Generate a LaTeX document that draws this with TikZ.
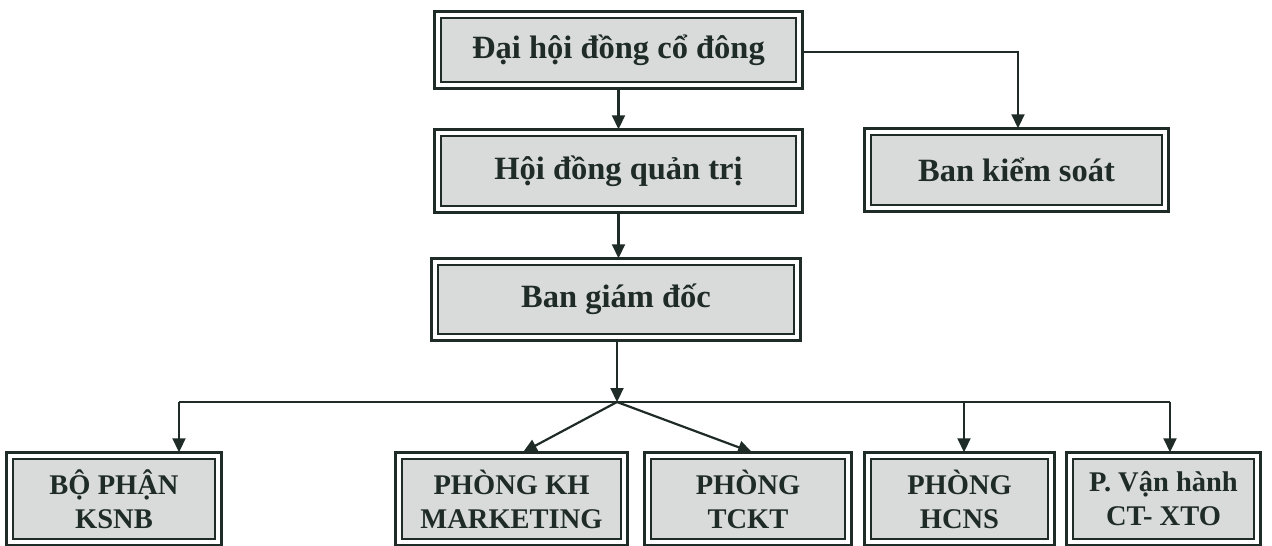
\documentclass[tikz,border=0pt]{standalone}
\usepackage{fontspec}
\setmainfont{Liberation Serif}
\usetikzlibrary{arrows.meta}
\definecolor{ink}{HTML}{1F2B27}
\definecolor{boxfill}{HTML}{D9DBDA}
\tikzset{
  orgbox/.style={draw=ink, fill=boxfill, line width=1.5pt, inner sep=0pt, align=center, text=ink},
  bigtxt/.style={font=\bfseries\fontsize{32.5}{37}\selectfont},
  smalltxt/.style={font=\bfseries\fontsize{28.5}{34}\selectfont},
  outerline/.style={draw=ink, line width=3.2pt},
  conn/.style={draw=ink, line width=2.2pt},
  arr/.style={conn, -{Triangle[width=13pt,length=14pt]}}
}
\begin{document}
\begin{tikzpicture}[x=1pt,y=-1pt]
\useasboundingbox (0,0) rectangle (1272,546);
\clip (0,0) rectangle (1272,546);
% top levels
\node[orgbox,bigtxt,minimum width=355pt,minimum height=64pt] (dhd) at (618.5,50) {Đại hội đồng cổ đông};
\node[orgbox,bigtxt,minimum width=355pt,minimum height=70pt] (hdqt) at (618.5,171) {Hội đồng quản trị};
\node[orgbox,bigtxt,minimum width=291pt,minimum height=70pt] (bks) at (1016.5,170) {Ban kiểm soát};
\node[orgbox,bigtxt,minimum width=356pt,minimum height=69pt] (bgd) at (616,299.5) {Ban giám đốc};
% bottom level
\node[orgbox,smalltxt,minimum width=202pt,minimum height=80pt] (ksnb) at (114,499) {BỘ PHẬN\\KSNB};
\node[orgbox,smalltxt,minimum width=219pt,minimum height=80pt] (mkt) at (511.5,499) {PHÒNG KH\\MARKETING};
\node[orgbox,smalltxt,minimum width=194pt,minimum height=80pt] (tckt) at (748,499) {PHÒNG\\TCKT};
\node[orgbox,smalltxt,minimum width=177pt,minimum height=80pt] (hcns) at (959.5,499) {PHÒNG\\HCNS};
\node[orgbox,smalltxt,minimum width=181pt,minimum height=80pt] (vh) at (1163.5,499) {P. Vận hành\\CT- XTO};
% outer borders
\foreach \n in {dhd,hdqt,bks,bgd,ksnb,mkt,tckt,hcns,vh}
  \draw[outerline] ([shift={(-6pt,6pt)}]\n.north west) rectangle ([shift={(6pt,-6pt)}]\n.south east);
% connectors
\coordinate (sp) at (617,402);
\coordinate (hl) at (179,402);
\coordinate (hr) at (1170,402);
\coordinate (hm) at (964,402);
\draw[arr] ([yshift=-6pt]dhd.south) -- ([yshift=6pt]dhd.south |- hdqt.north);
\draw[arr] ([xshift=6pt,yshift=-2pt]dhd.east) -| ([xshift=1.5pt,yshift=6pt]bks.north);
\draw[arr] ([yshift=-6pt]hdqt.south) -- ([yshift=6pt]hdqt.south |- bgd.north);
\draw[arr] ([yshift=-6pt]sp |- bgd.south) -- (sp);
\draw[conn] (hl) -- (hr);
\draw[arr] (hl) -- ([yshift=6pt]hl |- ksnb.north);
\draw[arr] (hm) -- ([yshift=6pt]hm |- hcns.north);
\draw[arr] (hr) -- ([yshift=6pt]hr |- vh.north);
\draw[arr] (sp) -- ([xshift=11.5pt,yshift=6pt]mkt.north);
\draw[arr] (sp) -- ([xshift=4pt,yshift=6pt]tckt.north);
\end{tikzpicture}
\end{document}
